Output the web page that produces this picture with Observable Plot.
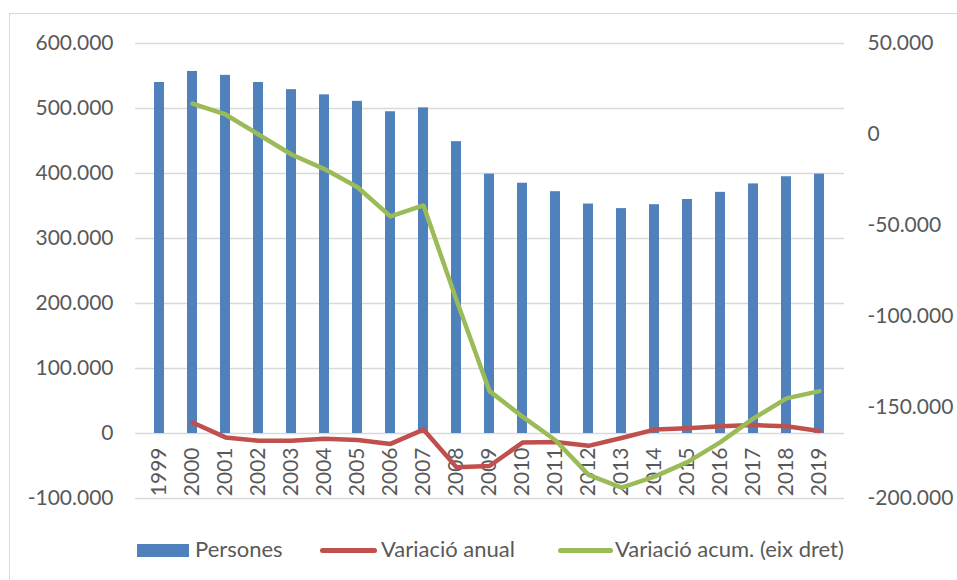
<!DOCTYPE html>
<html><head><meta charset="utf-8">
<script src="https://cdn.jsdelivr.net/npm/d3@7"></script>
<script src="https://cdn.jsdelivr.net/npm/@observablehq/plot@0.6"></script>
<style>
body{margin:0;background:#fff;}
#wrap{position:relative;width:957px;height:580px;overflow:hidden;font-family:Lato,sans-serif;color:#595959;}
#border{position:absolute;left:9px;top:13px;right:-5px;bottom:-5px;border-left:1px solid #D9D9D9;border-top:1px solid #D9D9D9;}
.layer{position:absolute;left:0;top:0;}
.leg{position:absolute;font-size:22px;line-height:22px;white-space:nowrap;color:#595959;}
.sw{position:absolute;}
</style></head><body>
<div id="wrap"><div id="border"></div><div id="main" class="layer"></div><div id="over" class="layer"></div><div id="legend"></div></div>
<script>
const years = ["1999","2000","2001","2002","2003","2004","2005","2006","2007","2008","2009","2010","2011","2012","2013","2014","2015","2016","2017","2018","2019"];
const persones = [540000,557000,551000,540000,529000,521000,511000,495000,501000,449000,399000,385000,372000,353000,346000,352000,360000,371000,384000,395000,399000];
const varYears = years.slice(1);
const variacioAnual = [17000,-6000,-11000,-11000,-8000,-10000,-16000,6000,-52000,-50000,-14000,-13000,-19000,-7000,6000,8000,11000,13000,11000,4000];
const variacioAcum = [17000,11000,0,-11000,-19000,-29000,-45000,-39000,-91000,-141000,-155000,-168000,-187000,-194000,-188000,-180000,-169000,-156000,-145000,-141000];
const leftTicks = [-100000,0,100000,200000,300000,400000,500000,600000];
const rightTicks = [-200000,-150000,-100000,-50000,0,50000];
const seriesNames = ["Persones","Variació anual","Variació acum. (eix dret)"];
const colors = ["#4F81BD","#C0504D","#9BBB59"];

const rows = years.map((y,i)=>({year:y, persones:persones[i]}));
const varRows = varYears.map((y,i)=>({year:y, anual:variacioAnual[i], acum:variacioAcum[i]}));
const fmt = d3.formatLocale({decimal:",", thousands:".", grouping:[3], currency:["","€"], minus:"-"}).format(",");

const W=957, H=530, ML=135, MR=113, MT=43, MB=H-498;
const xOpts = {type:"band", domain:years, paddingInner:0.69, paddingOuter:0.345, axis:null};
const style = {fontFamily:"Lato, sans-serif", fontSize:"21px", color:"#595959", background:"transparent", overflow:"visible"};

const main = Plot.plot({
  width:W, height:H, marginLeft:ML, marginRight:MR, marginTop:MT, marginBottom:MB,
  style, x:xOpts,
  y:{domain:[-100000,600000], ticks:leftTicks, tickFormat:fmt, tickSize:0, tickPadding:22, label:null},
  marks:[
    Plot.ruleY(leftTicks, {stroke:"#D9D9D9", strokeWidth:1.3}),
    Plot.barY(rows, {x:"year", y:"persones", fill:colors[0]}),
    Plot.text(years, {x:d=>d, y:0, text:d=>d, rotate:-90, textAnchor:"end", dy:14, fill:"#595959", fontSize:21}),
    Plot.line(varRows, {x:"year", y:"anual", stroke:colors[1], strokeWidth:4.5, strokeLinecap:"round", strokeLinejoin:"round"})
  ]
});
document.getElementById("main").appendChild(main);

const over = Plot.plot({
  width:W, height:H, marginLeft:ML, marginRight:MR, marginTop:MT, marginBottom:MB,
  style, x:xOpts,
  y:{domain:[-200000,50000], axis:"right", ticks:rightTicks, tickFormat:fmt, tickSize:0, tickPadding:23, label:null},
  marks:[
    Plot.line(varRows, {x:"year", y:"acum", stroke:colors[2], strokeWidth:4.5, strokeLinecap:"round", strokeLinejoin:"round"})
  ]
});
document.getElementById("over").appendChild(over);

// legend
const leg = document.getElementById("legend");
const swatches = [{l:137,w:52,top:544,h:13,r:0},{l:320,w:57,top:548,h:5,r:3},{l:558,w:55,top:548,h:5,r:3}];
const textLeft = [195,381,615];
seriesNames.forEach((n,i)=>{
  const s = document.createElement("div");
  s.className="sw";
  const sw = swatches[i];
  Object.assign(s.style,{left:sw.l+"px",top:sw.top+"px",width:sw.w+"px",height:sw.h+"px",background:colors[i],borderRadius:sw.r+"px"});
  leg.appendChild(s);
  const t = document.createElement("div");
  t.className="leg";
  t.style.left=textLeft[i]+"px"; t.style.top="538px";
  t.textContent=n;
  leg.appendChild(t);
});
</script>
</body></html>
